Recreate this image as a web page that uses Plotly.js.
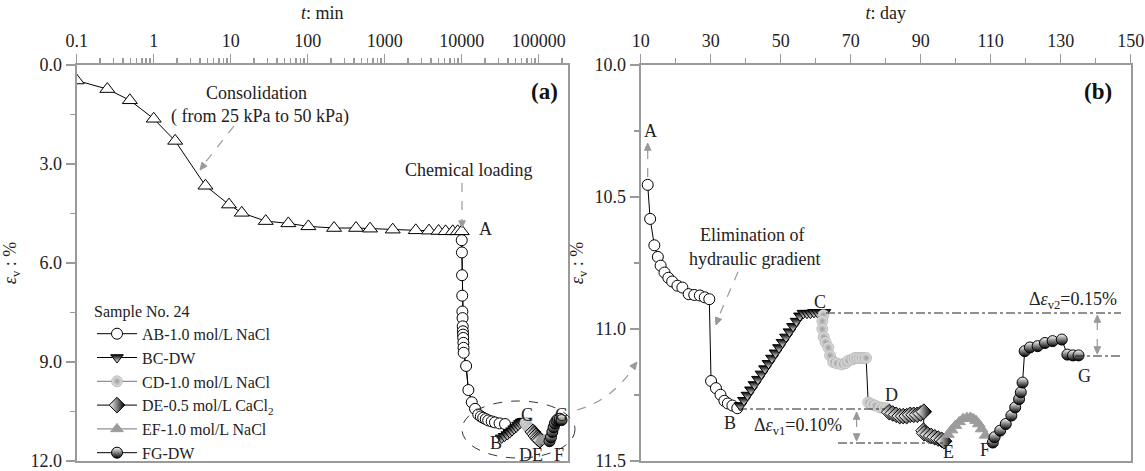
<!DOCTYPE html>
<html><head><meta charset="utf-8">
<script src="https://cdn.plot.ly/plotly-3.0.1.min.js"></script>
<style>html,body{margin:0;padding:0;background:#fff}#chart{width:1145px;height:471px}</style>
</head><body><div id="chart"></div>
<script>
// ---------- Panel (a): time in minutes (log) ----------
const consT = [0.1,0.25,0.49,1.0,1.9,4.7,9.5,13.9,28.5,56,102,220,424,645,1270,2530,3760,5000,6170,7640,8870,10000];
const consV = [0.47,0.73,1.07,1.63,2.30,3.66,4.23,4.48,4.73,4.80,4.89,4.94,4.94,4.96,4.99,5.01,5.02,5.03,5.04,5.04,5.04,5.04];
const abT_a = [10000,10050,10100,10150,10200,10250,10300,10350,10400,10450,10500,10550,10600,11400,12200,13500,14900,16400,17700,19000,20500,22100,24500,27000,31000,36500];
const abV_a = [5.31,5.68,6.37,6.99,7.47,7.67,7.92,8.07,8.17,8.27,8.42,8.57,8.72,9.12,9.85,10.22,10.42,10.59,10.65,10.69,10.73,10.77,10.80,10.83,10.86,10.88];
const bcT_a = [33000,36000,39000,42000,45000,48000,51000,54000,57000,60000,63000,66000];
const bcV_a = [11.30,11.25,11.20,11.14,11.08,11.02,10.97,10.91,10.86,10.82,10.80,10.79];
const cdT_a = [67000,70000,73000,76000,79000,82000];
const cdV_a = [10.85,10.92,10.98,11.02,11.04,11.05];
const deT_a = [84000,88000,92000,96000,100000,104000];
const deV_a = [11.12,11.18,11.24,11.30,11.34,11.37];
const efT_a = [108000,116000,124000,132000];
const efV_a = [11.37,11.35,11.36,11.40];
const fgT_a = [138000,144000,150000,156000,162000,170000,178000,188000,198000];
const fgV_a = [11.40,11.28,11.12,10.98,10.86,10.78,10.73,10.72,10.76];

// ---------- Panel (b): time in days ----------
const abT_b = [12.0,12.7,13.9,14.9,15.7,16.8,17.9,19.0,20.5,21.9,23.7,25.3,26.9,28.3,29.6,30.1,31.5,32.8,33.9,34.9,36.2,37.6];
const abV_b = [10.454,10.583,10.683,10.727,10.76,10.786,10.806,10.82,10.836,10.843,10.868,10.871,10.873,10.88,10.887,11.197,11.224,11.249,11.272,11.282,11.29,11.30];
const bcT_b = [38.5,39.5,40.5,41.5,42.5,43.5,44.5,45.5,46.5,47.5,48.5,49.5,50.5,51.5,52.5,53.5,54.5,55.5,56.5,57.5,58.5,59.5,60.5,61.5,62.5];
const bcV_b = [11.29,11.27,11.25,11.23,11.21,11.19,11.17,11.15,11.13,11.11,11.09,11.07,11.05,11.03,11.01,10.99,10.97,10.95,10.94,10.94,10.94,10.937,10.937,10.937,10.937];
const cdT_b = [62.2,61.9,61.9,62.3,62.8,63.6,64.1,65.0,66.0,67.4,68.5,69.3,70.5,71.2,72.0,72.7,73.5,74.4,75.0,76.0,77.0,78.4,79.4,80.3];
const cdV_b = [10.947,10.97,11.0,11.03,11.05,11.07,11.10,11.125,11.13,11.134,11.13,11.12,11.115,11.11,11.11,11.11,11.11,11.11,11.278,11.285,11.29,11.297,11.30,11.30];
const deT_b = [81.0,82.0,83.0,84.0,85.0,86.0,87.0,88.0,89.0,90.0,90.9,90.8,91.0,92.0,93.0,94.0,95.0,96.0,96.7];
const deV_b = [11.315,11.32,11.325,11.33,11.33,11.33,11.325,11.325,11.325,11.32,11.313,11.385,11.395,11.40,11.405,11.41,11.415,11.42,11.425];
const efT_b = [97.8,98.8,99.9,101.0,102.1,103.2,104.2,105.0,105.8,106.6,107.4,108.5];
const efV_b = [11.40,11.383,11.366,11.352,11.34,11.336,11.335,11.34,11.347,11.36,11.379,11.403];
const fgT_b = [110.6,111.1,112.7,114.3,115.9,117.0,118.1,118.6,119.1,119.7,121.2,123.4,125.5,127.7,130.3,131.9,133.5,135.1];
const fgV_b = [11.43,11.41,11.385,11.36,11.328,11.297,11.266,11.24,11.203,11.084,11.07,11.065,11.053,11.046,11.04,11.097,11.10,11.10];

const legendNames = ['AB-1.0 mol/L NaCl','BC-DW','CD-1.0 mol/L NaCl','DE-0.5 mol/L CaCl<sub>2</sub>','EF-1.0 mol/L NaCl','FG-DW'];

const FONT = 'Liberation Serif';
const GRAY = '#9a9a9a';
const mk = {
  tri:  {symbol:'triangle-up', size:13, color:'#fff', line:{color:'#000', width:1}},
  ab:   {symbol:'circle', size:11, color:'#fff', line:{color:'#000', width:1}},
  bc:   {symbol:'triangle-down', size:11, color:'#000', gradient:{type:'vertical', color:'#fff'}, line:{color:'#000', width:1}},
  cd:   {symbol:'circle', size:11, color:'#e6e6e6', gradient:{type:'radial', color:'#9a9a9a'}, line:{color:'#a0a0a0', width:0.6}},
  de:   {symbol:'diamond', size:12, color:'#fff', gradient:{type:'horizontal', color:'#000'}, line:{color:'#000', width:1}},
  ef:   {symbol:'triangle-up', size:11, color:'#9c9c9c', line:{color:'#9c9c9c', width:1}},
  fg:   {symbol:'circle', size:11, color:'#fff', gradient:{type:'vertical', color:'#000'}, line:{color:'#000', width:1}}
};

const segA = [[abT_a,abV_a,mk.ab],[bcT_a,bcV_a,mk.bc],[cdT_a,cdV_a,mk.cd],[deT_a,deV_a,mk.de],[efT_a,efV_a,mk.ef],[fgT_a,fgV_a,mk.fg]];
const segB = [[abT_b,abV_b,mk.ab],[bcT_b,bcV_b,mk.bc],[cdT_b,cdV_b,mk.cd],[deT_b,deV_b,mk.de],[efT_b,efV_b,mk.ef],[fgT_b,fgV_b,mk.fg]];

const traces = [];
const allTa = [].concat(consT, ...segA.map(s=>s[0]));
const allVa = [].concat(consV, ...segA.map(s=>s[1]));
traces.push({x:allTa, y:allVa, mode:'lines', line:{color:'#000', width:1}, xaxis:'x', yaxis:'y', showlegend:false, hoverinfo:'skip'});
const allTb = [].concat(...segB.map(s=>s[0]));
const allVb = [].concat(...segB.map(s=>s[1]));
traces.push({x:allTb, y:allVb, mode:'lines', line:{color:'#000', width:1}, xaxis:'x2', yaxis:'y2', showlegend:false, hoverinfo:'skip'});
traces.push({x:consT, y:consV, mode:'markers', marker:mk.tri, xaxis:'x', yaxis:'y', showlegend:false});
segA.forEach((s,i)=>traces.push({x:s[0], y:s[1], name:legendNames[i], mode:'lines+markers', line:{color: (i===2||i===4)?'#777':'#000', width:1}, marker:s[2], xaxis:'x', yaxis:'y', showlegend:true}));
segB.forEach((s,i)=>traces.push({x:s[0], y:s[1], mode:'markers', marker:s[2], xaxis:'x2', yaxis:'y2', showlegend:false}));

const W=1145, H=471;
const px = v=>v/W, py = v=>1-v/H;
const tf = {family:FONT, size:18, color:'#222'};
const axisBase = {showgrid:false, zeroline:false, showline:true, linecolor:GRAY, linewidth:2, mirror:true,
  ticks:'outside', tickcolor:GRAY, tickwidth:1.5, ticklen:9, tickfont:tf, ticklabeloverflow:'allow', automargin:false};

const minorLog = [];
[0.1,1,10,100,1000,10000,100000].forEach(d=>{for(let k=2;k<=9;k++){const v=d*k; if(v<240000) minorLog.push(v);}});

const ann = [];
function txt(x,y,t,opts){ann.push(Object.assign({xref:'paper',yref:'paper',x:px(x),y:py(y),text:t,showarrow:false,font:{family:FONT,size:18,color:'#222'},xanchor:'center',yanchor:'middle'},opts||{}));}
const shapes = [];
function dline(x0,y0,x1,y1,dash,color,w){shapes.push({type:'line',xref:'paper',yref:'paper',x0:px(x0),y0:py(y0),x1:px(x1),y1:py(y1),line:{color:color||GRAY,width:w||1.2,dash:dash||'dash'}});}
function head(x,y,fx,fy){
  const dx=x-fx, dy=y-fy, L=Math.hypot(dx,dy), ux=dx/L, uy=dy/L, len=8, a=0.42;
  const c=Math.cos(a), s=Math.sin(a);
  const w1x=x-len*(ux*c - uy*s), w1y=y-len*(uy*c + ux*s);
  const w2x=x-len*(ux*c + uy*s), w2y=y-len*(uy*c - ux*s);
  shapes.push({type:'path',xref:'paper',yref:'paper',path:`M ${px(w1x)},${py(w1y)} L ${px(x)},${py(y)} L ${px(w2x)},${py(w2y)} Z`,fillcolor:GRAY,line:{color:GRAY,width:1}});
}

// panel (a) texts
txt(544,92,'<b>(a)</b>',{font:{family:FONT,size:23,color:'#111'}});
txt(256,93,'Consolidation');
txt(260,117,'( from 25 kPa to 50 kPa)');
dline(234,126,204,164); head(200,170,210,157);
txt(468,170,'Chemical loading');
dline(462,183,462,220); head(462,228,462,216);
txt(485,229,'A');
txt(496,443,'B'); txt(527,415,'C'); txt(531,455,'DE'); txt(559,455,'F'); txt(561,415,'G');
shapes.push({type:'circle',xref:'paper',yref:'paper',x0:px(462),x1:px(575),y0:py(458),y1:py(401),line:{color:'#333',width:1,dash:'dash'}});
shapes.push({type:'path',xref:'paper',yref:'paper',path:`M ${px(577)},${py(410)} Q ${px(612)},${py(400)} ${px(633)},${py(368)}`,line:{color:GRAY,width:1.2,dash:'dash'}});
head(637,362,630,371);

// panel (b) texts
txt(1098,92,'<b>(b)</b>',{font:{family:FONT,size:23,color:'#111'}});
txt(650,131,'A');
dline(647.7,177,647.7,150); head(647.7,143,647.7,153);
txt(752,235,'Elimination of');
txt(754,259,'hydraulic gradient');
dline(738,272,719,316); head(716,325,720,314);
txt(820,302,'C'); txt(730,423,'B'); txt(891,395,'D'); txt(948,452,'E'); txt(985,450,'F'); txt(1084,376,'G');
txt(798,426,'Δ<i>ε</i><sub>v1</sub>=0.10%');
txt(1073,300,'Δ<i>ε</i><sub>v2</sub>=0.15%');
dline(738,409,885,409,'dashdot','#222',1);
dline(838,443,944,443,'dashdot','#222',1);
dline(826,313,1121,313,'dashdot','#222',1);
dline(1075,356,1121,356,'dashdot','#222',1);
dline(856.6,418,856.6,435); head(856.6,412,856.6,420); head(856.6,441,856.6,433);
dline(1097.3,321,1097.3,349); head(1097.3,315,1097.3,323); head(1097.3,354,1097.3,346);

const layout = {
  width:W, height:H, margin:{l:0,r:0,t:0,b:0}, paper_bgcolor:'#fff', plot_bgcolor:'#fff',
  font:{family:FONT, color:'#222'},
  showlegend:true,
  legend:{x:px(92), y:py(296), xanchor:'left', yanchor:'top', bgcolor:'rgba(0,0,0,0)', font:{family:FONT,size:16,color:'#222'},
    title:{text:'Sample No. 24', font:{family:FONT,size:16,color:'#222'}}, itemwidth:40, tracegroupgap:0},
  xaxis:Object.assign({}, axisBase, {type:'log', side:'top', anchor:'y', domain:[px(76.7), px(568)], range:[-1, 5.38],
    tickvals:[0.1,1,10,100,1000,10000,100000], ticktext:['0.1','1','10','100','1000','10000','100000'],
    minor:{tickvals:minorLog, ticklen:5, tickcolor:GRAY, tickwidth:1.5},
    title:{text:'<i>t</i>: min', font:tf, standoff:6}}),
  yaxis:Object.assign({}, axisBase, {anchor:'x', domain:[py(461), py(65)], range:[12,0],
    tickvals:[0,3,6,9,12], ticktext:['0.0','3.0','6.0','9.0','12.0'],
    minor:{tickvals:[1.5,4.5,7.5,10.5], ticklen:5, tickcolor:GRAY, tickwidth:1.5},
    title:{text:'<i>ε</i><sub>v</sub> : %', font:tf, standoff:10}}),
  xaxis2:Object.assign({}, axisBase, {side:'top', anchor:'y2', domain:[px(640.7), px(1130.7)], range:[10,150],
    tickvals:[10,30,50,70,90,110,130,150],
    minor:{tickvals:[20,40,60,80,100,120,140], ticklen:5, tickcolor:GRAY, tickwidth:1.5},
    title:{text:'<i>t</i>: day', font:tf, standoff:6}}),
  yaxis2:Object.assign({}, axisBase, {anchor:'x2', domain:[py(461), py(65)], range:[11.5,10],
    tickvals:[10,10.5,11,11.5], ticktext:['10.0','10.5','11.0','11.5'],
    minor:{tickvals:[10.25,10.75,11.25], ticklen:5, tickcolor:GRAY, tickwidth:1.5},
    title:{text:'<i>ε</i><sub>v</sub> : %', font:tf, standoff:6}}),
  annotations:ann, shapes:shapes
};
Plotly.newPlot('chart', traces, layout, {staticPlot:true, displayModeBar:false});
</script></body></html>
